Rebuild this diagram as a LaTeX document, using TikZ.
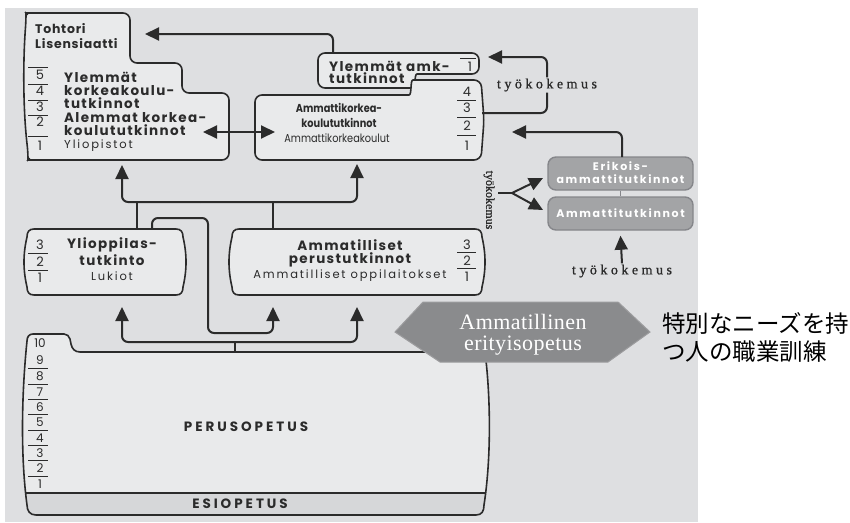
\documentclass[tikz,border=0pt]{standalone}
\usepackage{fontspec}
\usepackage{graphicx}
\usetikzlibrary{arrows.meta,calc}
\setmainfont{Liberation Serif}
\newfontfamily\popf{Poppins}
\newfontfamily\serf{Liberation Serif}
\newfontfamily\jpf{Noto Sans CJK JP}
\definecolor{bgc}{HTML}{DEDFE1}
\definecolor{boxc}{HTML}{E9EAEB}
\definecolor{linec}{HTML}{2B2B2B}
\definecolor{darkbox}{HTML}{A3A4A6}
\definecolor{darkboxline}{HTML}{85868A}
\definecolor{hexc}{HTML}{8A8B8D}
\definecolor{bandc}{HTML}{D6D7D9}
\tikzset{
  boxline/.style={draw=linec, line width=1.6pt, fill=boxc, rounded corners=7pt},
  conn/.style={draw=linec, line width=2pt, rounded corners=6pt},
  arr/.style={conn, -{Triangle[length=14pt,width=13pt]}},
  rulel/.style={draw=linec, line width=1pt},
  num/.style={font=\popf\fontsize{13}{13}\selectfont, text=linec, inner sep=0pt},
  snum/.style={font=\popf\fontsize{12}{12}\selectfont, text=linec, inner sep=0pt},
  bl/.style={font=\popf\bfseries\fontsize{13.5}{14}\selectfont\addfontfeature{LetterSpace=10}, text=linec, inner sep=0pt},
  rl/.style={font=\popf\fontsize{11.5}{12}\selectfont\addfontfeature{LetterSpace=16}, text=linec, inner sep=0pt},
  tl/.style={font=\popf\bfseries\fontsize{12.5}{13}\selectfont\addfontfeature{LetterSpace=6}, text=linec, inner sep=0pt},
  ab/.style={font=\popf\bfseries\fontsize{11.5}{12}\selectfont, text=linec, inner sep=0pt},
  ar/.style={font=\popf\fontsize{11.5}{12}\selectfont, text=linec, inner sep=0pt},
  wl/.style={font=\popf\bfseries\fontsize{11}{12}\selectfont\addfontfeature{LetterSpace=15}, text=white, inner sep=0pt},
  tk/.style={font=\serf\fontsize{14}{15}\selectfont\addfontfeature{LetterSpace=25,FakeBold=1}, text=linec, inner sep=1pt},
  dbox/.style={draw=darkboxline, line width=1.4pt, fill=darkbox, rounded corners=8pt, minimum width=145pt, minimum height=33pt, inner sep=0pt},
  capsl/.style={font=\popf\bfseries\fontsize{13.5}{14}\selectfont\addfontfeature{LetterSpace=22}, text=linec, inner sep=0pt},
  hext/.style={font=\serf\fontsize{22}{24}\selectfont\addfontfeature{LetterSpace=2}, text=white, inner sep=0pt},
  jp/.style={font=\jpf\fontsize{23.5}{26}\selectfont, text=black, inner sep=0pt, anchor=west},
}
\newcommand{\narrow}[1]{\scalebox{0.85}[1]{#1}}
\newcommand{\bulgebox}[4]{\draw[boxline, rounded corners=0pt] (#1+9,#2) -- (#3-9,#2) .. controls (#3-4,#2) and (#3-2,#2+3) .. (#3-2,#2+8) .. controls (#3+2,#2+25) and (#3+2,#4-25) .. (#3-2,#4-8) .. controls (#3-2,#4-3) and (#3-4,#4) .. (#3-9,#4) -- (#1+9,#4) .. controls (#1+4,#4) and (#1+2,#4-3) .. (#1+2,#4-8) .. controls (#1-2,#4-25) and (#1-2,#2+25) .. (#1+2,#2+8) .. controls (#1+2,#2+3) and (#1+4,#2) .. (#1+9,#2) -- cycle;}
\newcommand{\perpath}{(36,515) -- (476,515) .. controls (482,515) and (484,511) .. (484,505) .. controls (491,460) and (491,400) .. (485,352) -- (80,352) .. controls (75,352) and (72,349) .. (71,344) -- (70,339) .. controls (69,336) and (67,334) .. (64,334) -- (33,334) .. controls (29,334) and (27,337) .. (27,341) .. controls (21,400) and (21,460) .. (27,505) .. controls (27,511) and (30,515) .. (36,515) -- cycle}
\begin{document}
\begin{tikzpicture}[x=1pt,y=-1pt]
\useasboundingbox (0,0) rectangle (850,522);
\fill[bgc] (5,8) rectangle (698,522);

% ---------- boxes ----------
% university
\draw[boxline] (80,13) -- (130,13) -- (130,63) -- (182,63) -- (182,93) -- (229,93) -- (229,160) -- (36,160) .. controls (31,160) and (28,157) .. (28,152) .. controls (23,110) and (23,60) .. (26,21) .. controls (26,16) and (29,13) .. (34,13) -- cycle;
% ylemmat amk
\draw[boxline] (400,53) -- (479,53) -- (479,74) -- (424,74) .. controls (414,74) and (416,88) .. (406,88) -- (318,88) -- (318,53) -- cycle;
% amk
\draw[boxline] (300,95) -- (402,95) .. controls (412,95) and (410,80) .. (420,80) -- (481,80) -- (484,120) -- (481,160) -- (255,160) -- (255,95) -- cycle;
% ylioppilas and ammatilliset
\bulgebox{25}{229}{185}{295}
\bulgebox{230}{229}{484}{295}
% perusopetus
\fill[boxc] \perpath;
\begin{scope}
\clip \perpath;
\fill[bandc] (0,493) rectangle (500,522);
\draw[linec, line width=1.6pt] (0,493) -- (500,493);
\end{scope}
\draw[draw=linec, line width=1.6pt] \perpath;

% hexagon
\filldraw[fill=hexc, draw=hexc!85!white, line width=1pt] (395,332) -- (423,302) -- (618,302) -- (650,332) -- (608,362) -- (440,362) -- cycle;

% dark boxes
\node[dbox] (eri) at (620.5,173.5) {};
\node[dbox] (amt) at (620.5,213.5) {};
\draw[darkboxline, line width=1.5pt] (eri.south) -- (amt.north);
\node[wl] at (620.5,166) {Erikois-};
\node[wl] at (620.5,179) {ammattitutkinnot};
\node[wl] at (620.5,213) {Ammattitutkinnot};

% ---------- coordinates ----------
\coordinate (ya) at (333,53);
\coordinate (tohtip) at (145,34);
\coordinate (ualeft) at (203,132);
\coordinate (amleft) at (275,132);
\coordinate (amkr) at (482,113);
\coordinate (yamr) at (488,57);
\coordinate (amkin2) at (512,132);
\coordinate (uin) at (122,165);
\coordinate (ain) at (357,164);
\coordinate (yt1) at (137,229);
\coordinate (at1) at (273,229);
\coordinate (tj) at (200,202);
\coordinate (yt2) at (152,229);
\coordinate (ain2) at (273,307);
\coordinate (pt) at (235,352);
\coordinate (pj) at (235,342);
\coordinate (yin) at (122,307);
\coordinate (ain3) at (357,307);
\coordinate (fk0) at (498,193);
\coordinate (fk) at (512,193);
\coordinate (fe1) at (543,178);
\coordinate (fe2) at (543,210);

% ---------- labels työkokemus ----------
\node[tk] (tk1) at (547,85) {työkokemus};
\node[tk] (tk3) at (622,271) {työkokemus};
\node[font=\serf\fontsize{12}{12}\selectfont\addfontfeature{FakeBold=1}, text=linec, rotate=-90, inner sep=0pt] (tk2) at (489,200) {työkokemus};

% ---------- connectors ----------
\draw[arr] (ya) |- (tohtip);
\draw[conn, {Triangle[length=14pt,width=13pt]}-{Triangle[length=14pt,width=13pt]}] (ualeft) -- (amleft);
\draw[conn] (amkr) -| (tk1.south);
\draw[arr] (tk1.north) |- (yamr);
\draw[arr] (622,157) |- (amkin2);
\draw[arr] (tk3.north) -- ([yshift=-5pt]amt.south);
\draw[conn, rounded corners=0pt] (fk0) -- (fk);
\draw[arr, rounded corners=0pt] (fk) -- (fe1);
\draw[arr, rounded corners=0pt] (fk) -- (fe2);
\draw[conn] (yt1) -- (137,202);
\draw[conn] (at1) -- (273,202);
\draw[arr] (tj) -| (uin);
\draw[arr] (tj) -| (ain);
\draw[arr] (yt2) -- (152,218) -- (208,218) -- (208,333) -- (273,333) -- (ain2);
\draw[conn] (pt) -- (pj);
\draw[arr] (pj) -| (yin);
\draw[arr] (pj) -| (ain3);

% ---------- university texts ----------
\node[tl, anchor=west] at (35,29) {Tohtori};
\node[tl, anchor=west] at (35,44) {Lisensiaatti};
\foreach \yy in {67,84,100,115,136} {\draw[rulel] (28,\yy) -- (48,\yy);}
\foreach \n/\yy in {5/75,4/91,3/107,2/122,1/146} {\node[num] at (40,\yy) {\n};}
\node[bl, anchor=west] at (64,77) {Ylemmät};
\node[bl, anchor=west] at (64,91) {korkeakoulu-};
\node[bl, anchor=west] at (64,103) {tutkinnot};
\node[bl, anchor=west] at (64,118) {Alemmat korkea-};
\node[bl, anchor=west] at (64,130) {koulututkinnot};
\node[rl, anchor=west] at (64,146) {Yliopistot};

% ---------- ylemmat amk ----------
\node[bl, anchor=west] at (329,66) {Ylemmät amk-};
\node[bl, anchor=west] at (329,78) {tutkinnot};
\draw[rulel] (460,58) -- (476,58);
\node[num] at (470,67) {1};

% ---------- amk ----------
\node[ab] at (339,108) {\narrow{Ammattikorkea-}};
\node[ab] at (339,123) {\narrow{koulututkinnot}};
\node[ar] at (337,138) {\narrow{Ammattikorkeakoulut}};
\foreach \yy in {100,117,135} {\draw[rulel] (457,\yy) -- (476,\yy);}
\foreach \n/\yy in {4/92,3/108,2/126,1/146} {\node[num] at (467,\yy) {\n};}

% ---------- ylioppilas ----------
\foreach \yy in {253,270} {\draw[rulel] (28,\yy) -- (48,\yy);}
\foreach \n/\yy in {3/245,2/262,1/278} {\node[num] at (40,\yy) {\n};}
\node[bl] at (112,245) {Ylioppilas-};
\node[bl] at (112,260) {tutkinto};
\node[rl] at (112,276) {Lukiot};

% ---------- ammatilliset ----------
\foreach \yy in {252,268} {\draw[rulel] (457,\yy) -- (476,\yy);}
\foreach \n/\yy in {3/245,2/261,1/277} {\node[num] at (467,\yy) {\n};}
\node[bl] at (350,245) {Ammatilliset};
\node[bl] at (350,260) {perustutkinnot};
\node[rl] at (350,276) {Ammatilliset oppilaitokset};

% ---------- perusopetus ----------
\node[snum] at (40,343) {10};
\foreach \yy in {368,384,399,414,430,445,460,476} {\draw[rulel] (28,\yy) -- (48,\yy);}
\foreach \n/\yy in {9/360,8/376,7/392,6/407,5/422,4/438,3/453,2/468,1/484} {\node[snum] at (40,\yy) {\n};}
\node[capsl] at (246,427) {PERUSOPETUS};
\node[capsl] at (240,504) {ESIOPETUS};

% ---------- hexagon text ----------
\node[hext] at (523,322) {Ammatillinen};
\node[hext] at (523,346) {erityisopetus};

% ---------- japanese ----------
\node[jp] at (662,323) {特別なニーズを持};
\node[jp] at (662,352) {つ人の職業訓練};
\end{tikzpicture}
\end{document}
